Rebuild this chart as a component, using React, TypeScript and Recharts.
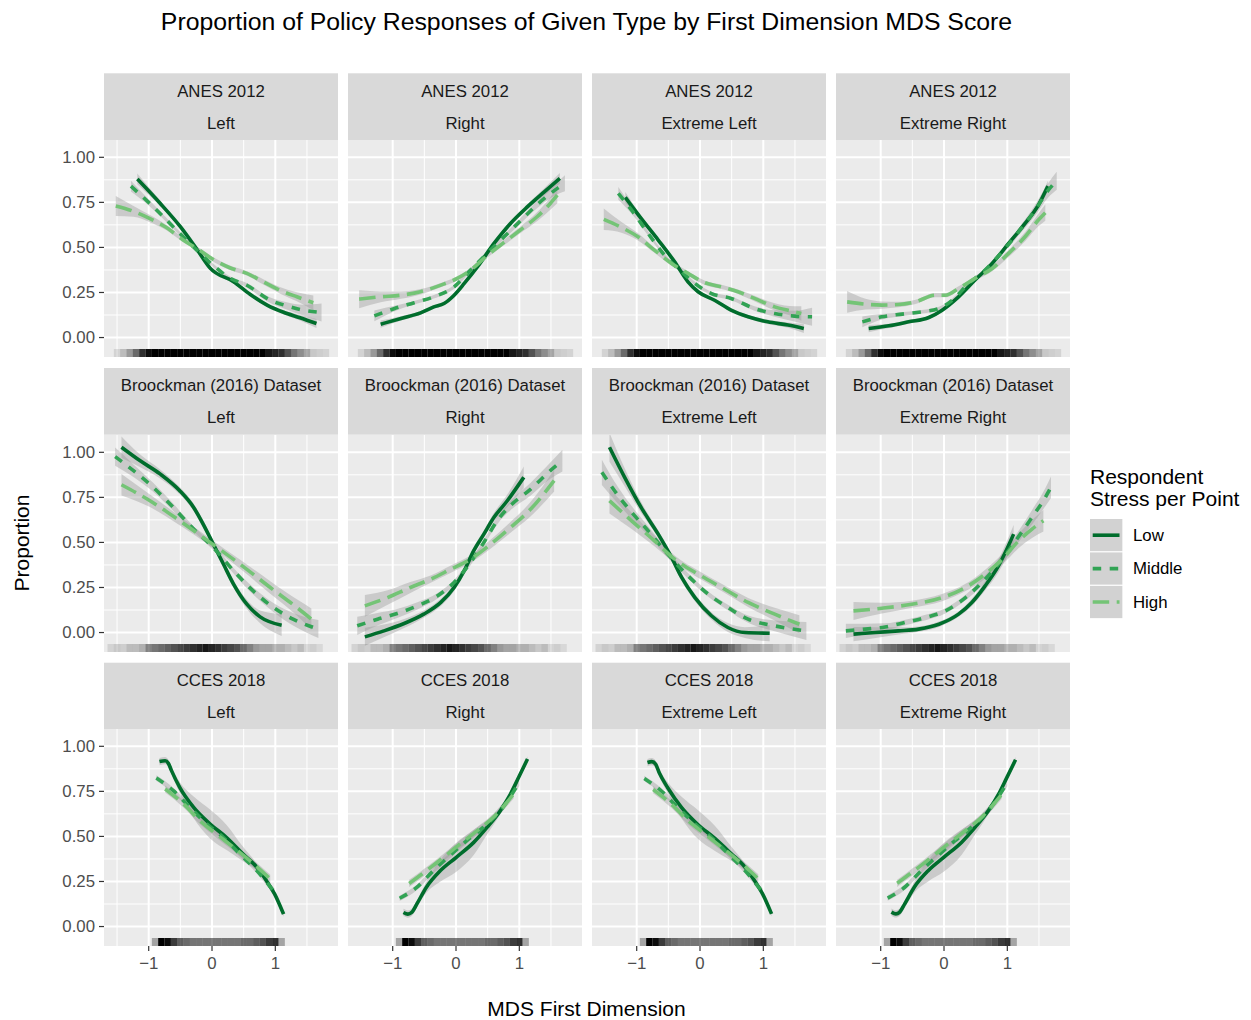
import { ComposedChart, Line, Area, Scatter, XAxis, YAxis, CartesianGrid } from 'recharts'

// [x, fitted proportion, ribbon half-width]
type Pt = [number, number, number]

const datasets = ['ANES 2012', 'Broockman (2016) Dataset', 'CCES 2018']
const responseTypes = ['Left', 'Right', 'Extreme Left', 'Extreme Right']
const stressLevels = ['Low', 'Middle', 'High']

// ANES 2012
const anesLeftLow: Pt[] = [[-1.18, 0.88, 0.03], [-0.82, 0.745, 0.015], [-0.5, 0.615, 0.01], [-0.24, 0.49, 0.01], [-0.03, 0.385, 0.01], [0.34, 0.31, 0.01], [0.6, 0.24, 0.01], [0.87, 0.18, 0.01], [1.13, 0.14, 0.012], [1.39, 0.11, 0.015], [1.65, 0.078, 0.025]]
const anesLeftMid: Pt[] = [[-1.28, 0.84, 0.03], [-0.93, 0.726, 0.015], [-0.56, 0.596, 0.01], [-0.24, 0.485, 0.01], [0.02, 0.4, 0.01], [0.28, 0.33, 0.01], [0.55, 0.29, 0.012], [0.92, 0.207, 0.015], [1.18, 0.176, 0.02], [1.44, 0.152, 0.03], [1.73, 0.139, 0.05]]
const anesLeftHigh: Pt[] = [[-1.52, 0.73, 0.055], [-1.24, 0.7, 0.03], [-0.98, 0.66, 0.02], [-0.72, 0.61, 0.015], [-0.45, 0.54, 0.012], [-0.24, 0.494, 0.012], [0.02, 0.433, 0.012], [0.28, 0.387, 0.012], [0.55, 0.356, 0.012], [0.81, 0.309, 0.015], [1.07, 0.263, 0.018], [1.34, 0.226, 0.025], [1.6, 0.193, 0.04]]

const anesRightLow: Pt[] = [[-1.19, 0.074, 0.02], [-0.87, 0.106, 0.012], [-0.56, 0.137, 0.01], [-0.35, 0.17, 0.01], [-0.19, 0.189, 0.01], [-0.03, 0.235, 0.01], [0.13, 0.3, 0.01], [0.34, 0.393, 0.01], [0.6, 0.522, 0.01], [0.86, 0.633, 0.012], [1.13, 0.726, 0.015], [1.39, 0.807, 0.02], [1.64, 0.883, 0.03]]
const anesRightMid: Pt[] = [[-1.29, 0.12, 0.03], [-0.97, 0.161, 0.015], [-0.66, 0.193, 0.01], [-0.35, 0.226, 0.01], [-0.03, 0.281, 0.01], [0.23, 0.374, 0.01], [0.49, 0.467, 0.01], [0.76, 0.559, 0.012], [1.02, 0.648, 0.015], [1.28, 0.737, 0.02], [1.55, 0.815, 0.03], [1.72, 0.856, 0.045]]
const anesRightHigh: Pt[] = [[-1.53, 0.213, 0.05], [-1.19, 0.226, 0.03], [-0.87, 0.235, 0.02], [-0.56, 0.254, 0.015], [-0.24, 0.291, 0.012], [0.02, 0.328, 0.012], [0.23, 0.374, 0.012], [0.49, 0.454, 0.012], [0.76, 0.528, 0.015], [1.02, 0.598, 0.018], [1.28, 0.67, 0.025], [1.49, 0.744, 0.035], [1.6, 0.79, 0.045]]

const anesExtLeftLow: Pt[] = [[-1.18, 0.778, 0.03], [-0.93, 0.661, 0.015], [-0.66, 0.541, 0.01], [-0.4, 0.42, 0.01], [-0.19, 0.309, 0.01], [-0.03, 0.254, 0.01], [0.23, 0.207, 0.01], [0.49, 0.152, 0.01], [0.76, 0.115, 0.01], [1.07, 0.087, 0.012], [1.39, 0.069, 0.015], [1.64, 0.05, 0.025]]
const anesExtLeftMid: Pt[] = [[-1.29, 0.8, 0.035], [-1.08, 0.707, 0.02], [-0.82, 0.578, 0.012], [-0.56, 0.457, 0.01], [-0.29, 0.365, 0.01], [-0.08, 0.3, 0.01], [0.18, 0.244, 0.01], [0.49, 0.217, 0.01], [0.86, 0.161, 0.012], [1.18, 0.133, 0.018], [1.49, 0.119, 0.03], [1.77, 0.115, 0.05]]
const anesExtLeftHigh: Pt[] = [[-1.52, 0.656, 0.06], [-1.24, 0.611, 0.03], [-0.98, 0.559, 0.02], [-0.72, 0.485, 0.015], [-0.45, 0.411, 0.012], [-0.19, 0.356, 0.012], [0.07, 0.305, 0.012], [0.34, 0.281, 0.012], [0.6, 0.254, 0.012], [0.86, 0.217, 0.015], [1.18, 0.17, 0.02], [1.49, 0.143, 0.03], [1.6, 0.133, 0.04]]

const anesExtRightLow: Pt[] = [[-1.19, 0.05, 0.02], [-0.87, 0.065, 0.012], [-0.56, 0.087, 0.01], [-0.24, 0.111, 0.01], [-0.03, 0.152, 0.01], [0.23, 0.226, 0.01], [0.49, 0.319, 0.01], [0.76, 0.411, 0.01], [1.02, 0.522, 0.012], [1.28, 0.633, 0.015], [1.49, 0.735, 0.02], [1.64, 0.84, 0.03]]
const anesExtRightMid: Pt[] = [[-1.29, 0.087, 0.03], [-0.98, 0.115, 0.015], [-0.66, 0.13, 0.01], [-0.35, 0.143, 0.01], [-0.08, 0.161, 0.01], [0.13, 0.207, 0.01], [0.39, 0.3, 0.01], [0.65, 0.374, 0.012], [0.92, 0.476, 0.015], [1.18, 0.587, 0.02], [1.44, 0.707, 0.03], [1.65, 0.819, 0.04], [1.78, 0.87, 0.05]]
const anesExtRightHigh: Pt[] = [[-1.53, 0.198, 0.06], [-1.24, 0.185, 0.03], [-0.98, 0.18, 0.02], [-0.72, 0.183, 0.015], [-0.45, 0.198, 0.012], [-0.14, 0.235, 0.012], [0.02, 0.235, 0.012], [0.23, 0.272, 0.012], [0.49, 0.328, 0.012], [0.76, 0.383, 0.015], [1.02, 0.467, 0.02], [1.28, 0.559, 0.025], [1.49, 0.652, 0.035], [1.6, 0.693, 0.045]]

// Broockman (2016)
const brLeftLow: Pt[] = [[-1.43, 1.028, 0.06], [-1.14, 0.954, 0.035], [-0.82, 0.88, 0.025], [-0.51, 0.787, 0.02], [-0.29, 0.694, 0.02], [-0.14, 0.602, 0.02], [0.02, 0.491, 0.02], [0.18, 0.38, 0.02], [0.34, 0.269, 0.02], [0.55, 0.157, 0.025], [0.76, 0.087, 0.035], [1.1, 0.041, 0.06]]
const brLeftMid: Pt[] = [[-1.53, 0.976, 0.05], [-1.24, 0.898, 0.035], [-0.93, 0.806, 0.025], [-0.61, 0.694, 0.02], [-0.29, 0.574, 0.015], [0.02, 0.472, 0.015], [0.34, 0.343, 0.015], [0.65, 0.231, 0.02], [0.97, 0.139, 0.025], [1.28, 0.074, 0.035], [1.68, 0.019, 0.05]]
const brLeftHigh: Pt[] = [[-1.43, 0.82, 0.06], [-0.98, 0.731, 0.035], [-0.51, 0.62, 0.025], [-0.03, 0.5, 0.02], [0.44, 0.38, 0.025], [0.92, 0.25, 0.035], [1.34, 0.139, 0.045], [1.57, 0.074, 0.06]]

const brRightLow: Pt[] = [[-1.44, -0.024, 0.05], [-1.14, 0.009, 0.035], [-0.82, 0.05, 0.025], [-0.51, 0.102, 0.02], [-0.24, 0.167, 0.02], [-0.03, 0.25, 0.02], [0.13, 0.343, 0.02], [0.28, 0.454, 0.02], [0.44, 0.546, 0.02], [0.6, 0.639, 0.025], [0.81, 0.731, 0.035], [1.07, 0.861, 0.06]]
const brRightMid: Pt[] = [[-1.56, 0.037, 0.05], [-1.24, 0.074, 0.035], [-0.93, 0.106, 0.025], [-0.61, 0.148, 0.02], [-0.29, 0.204, 0.015], [-0.03, 0.278, 0.015], [0.23, 0.389, 0.015], [0.44, 0.5, 0.015], [0.65, 0.62, 0.02], [0.86, 0.704, 0.025], [1.18, 0.796, 0.035], [1.49, 0.898, 0.045], [1.68, 0.954, 0.06]]
const brRightHigh: Pt[] = [[-1.44, 0.148, 0.06], [-1.08, 0.194, 0.04], [-0.72, 0.25, 0.03], [-0.4, 0.296, 0.02], [-0.08, 0.352, 0.02], [0.23, 0.407, 0.02], [0.55, 0.491, 0.025], [0.86, 0.583, 0.03], [1.18, 0.685, 0.04], [1.55, 0.843, 0.06]]

const brExtLeftLow: Pt[] = [[-1.43, 1.028, 0.08], [-1.19, 0.861, 0.05], [-0.93, 0.694, 0.03], [-0.66, 0.546, 0.02], [-0.45, 0.417, 0.02], [-0.29, 0.306, 0.02], [-0.08, 0.194, 0.02], [0.18, 0.093, 0.02], [0.44, 0.028, 0.025], [0.71, 0.0, 0.03], [1.1, -0.004, 0.045]]
const brExtLeftMid: Pt[] = [[-1.55, 0.889, 0.07], [-1.35, 0.787, 0.05], [-1.08, 0.667, 0.035], [-0.82, 0.565, 0.025], [-0.51, 0.435, 0.02], [-0.19, 0.315, 0.015], [0.13, 0.213, 0.015], [0.44, 0.139, 0.015], [0.76, 0.074, 0.02], [1.18, 0.037, 0.03], [1.68, 0.009, 0.05]]
const brExtLeftHigh: Pt[] = [[-1.43, 0.731, 0.07], [-1.08, 0.62, 0.045], [-0.72, 0.509, 0.03], [-0.4, 0.407, 0.02], [-0.03, 0.324, 0.02], [0.34, 0.25, 0.02], [0.76, 0.167, 0.025], [1.18, 0.102, 0.035], [1.57, 0.046, 0.05]]

const brExtRightLow: Pt[] = [[-1.43, -0.009, 0.04], [-1.08, 0.0, 0.03], [-0.72, 0.009, 0.02], [-0.4, 0.019, 0.015], [-0.08, 0.046, 0.015], [0.23, 0.102, 0.015], [0.44, 0.167, 0.02], [0.65, 0.259, 0.025], [0.86, 0.37, 0.035], [1.1, 0.546, 0.05]]
const brExtRightMid: Pt[] = [[-1.55, 0.009, 0.04], [-1.24, 0.019, 0.03], [-0.93, 0.031, 0.02], [-0.61, 0.056, 0.015], [-0.29, 0.083, 0.015], [0.02, 0.12, 0.015], [0.34, 0.194, 0.015], [0.6, 0.278, 0.02], [0.86, 0.38, 0.025], [1.13, 0.509, 0.03], [1.39, 0.639, 0.04], [1.6, 0.75, 0.05], [1.69, 0.806, 0.06]]
const brExtRightHigh: Pt[] = [[-1.43, 0.12, 0.05], [-0.98, 0.135, 0.03], [-0.51, 0.157, 0.02], [-0.03, 0.194, 0.02], [0.34, 0.25, 0.02], [0.65, 0.324, 0.025], [0.92, 0.407, 0.03], [1.18, 0.509, 0.04], [1.39, 0.574, 0.05], [1.57, 0.62, 0.06]]

// CCES 2018
const ccesLeftLow: Pt[] = [[-0.83, 0.915, 0.02], [-0.74, 0.92, 0.02], [-0.69, 0.906, 0.02], [-0.64, 0.865, 0.02], [-0.51, 0.772, 0.03], [-0.29, 0.661, 0.06], [-0.03, 0.569, 0.08], [0.23, 0.494, 0.07], [0.49, 0.402, 0.04], [0.71, 0.328, 0.02], [0.86, 0.254, 0.015], [0.99, 0.18, 0.015], [1.13, 0.069, 0.015]]
const ccesLeftMid: Pt[] = [[-0.88, 0.824, 0.015], [-0.61, 0.754, 0.015], [-0.35, 0.661, 0.015], [-0.08, 0.569, 0.015], [0.18, 0.494, 0.015], [0.44, 0.402, 0.015], [0.71, 0.309, 0.015], [0.99, 0.189, 0.02]]
const ccesLeftHigh: Pt[] = [[-0.74, 0.763, 0.02], [-0.45, 0.68, 0.02], [-0.19, 0.587, 0.02], [0.07, 0.513, 0.02], [0.34, 0.439, 0.02], [0.6, 0.365, 0.02], [0.92, 0.263, 0.025]]

const ccesRightLow: Pt[] = [[-0.83, 0.078, 0.02], [-0.76, 0.069, 0.02], [-0.7, 0.078, 0.02], [-0.62, 0.124, 0.02], [-0.47, 0.217, 0.03], [-0.25, 0.309, 0.06], [0.0, 0.383, 0.08], [0.28, 0.467, 0.07], [0.49, 0.55, 0.04], [0.7, 0.643, 0.02], [0.86, 0.735, 0.015], [0.99, 0.828, 0.015], [1.13, 0.93, 0.015]]
const ccesRightMid: Pt[] = [[-0.89, 0.157, 0.015], [-0.62, 0.217, 0.015], [-0.36, 0.309, 0.015], [-0.1, 0.393, 0.015], [0.17, 0.476, 0.015], [0.43, 0.55, 0.015], [0.7, 0.643, 0.015], [1.0, 0.8, 0.02]]
const ccesRightHigh: Pt[] = [[-0.74, 0.239, 0.02], [-0.47, 0.309, 0.02], [-0.2, 0.383, 0.02], [0.06, 0.457, 0.02], [0.33, 0.531, 0.02], [0.59, 0.606, 0.02], [0.91, 0.735, 0.025]]

const ccesExtLeftLow: Pt[] = [[-0.83, 0.91, 0.02], [-0.76, 0.915, 0.02], [-0.7, 0.9, 0.02], [-0.64, 0.85, 0.02], [-0.51, 0.77, 0.03], [-0.29, 0.66, 0.06], [-0.03, 0.565, 0.08], [0.23, 0.49, 0.07], [0.49, 0.405, 0.04], [0.71, 0.33, 0.02], [0.86, 0.255, 0.015], [0.99, 0.18, 0.015], [1.13, 0.07, 0.015]]
const ccesExtLeftMid: Pt[] = [[-0.88, 0.822, 0.015], [-0.61, 0.752, 0.015], [-0.35, 0.66, 0.015], [-0.08, 0.57, 0.015], [0.18, 0.495, 0.015], [0.44, 0.405, 0.015], [0.71, 0.31, 0.015], [0.99, 0.19, 0.02]]
const ccesExtLeftHigh: Pt[] = [[-0.74, 0.76, 0.02], [-0.45, 0.678, 0.02], [-0.19, 0.588, 0.02], [0.07, 0.515, 0.02], [0.34, 0.44, 0.02], [0.6, 0.367, 0.02], [0.92, 0.265, 0.025]]

const ccesExtRightLow: Pt[] = [[-0.83, 0.08, 0.02], [-0.76, 0.07, 0.02], [-0.7, 0.08, 0.02], [-0.62, 0.126, 0.02], [-0.47, 0.218, 0.03], [-0.25, 0.31, 0.06], [0.0, 0.385, 0.08], [0.28, 0.468, 0.07], [0.49, 0.55, 0.04], [0.7, 0.642, 0.02], [0.86, 0.733, 0.015], [0.99, 0.825, 0.015], [1.13, 0.925, 0.015]]
const ccesExtRightMid: Pt[] = [[-0.89, 0.158, 0.015], [-0.62, 0.218, 0.015], [-0.36, 0.31, 0.015], [-0.1, 0.393, 0.015], [0.17, 0.475, 0.015], [0.43, 0.55, 0.015], [0.7, 0.642, 0.015], [1.0, 0.798, 0.02]]
const ccesExtRightHigh: Pt[] = [[-0.74, 0.24, 0.02], [-0.47, 0.31, 0.02], [-0.2, 0.384, 0.02], [0.06, 0.457, 0.02], [0.33, 0.53, 0.02], [0.59, 0.605, 0.02], [0.91, 0.733, 0.025]]

// rug density of respondents' first-dimension scores, [x, shade]
const anesRug: [number, number][] = [[-1.5, 0.1], [-1.4, 0.2], [-1.3, 0.35], [-1.2, 0.55], [-1.1, 0.8], [-1.0, 0.95], [-0.9, 1], [-0.8, 1], [-0.7, 1], [-0.6, 1], [-0.5, 1], [-0.4, 1], [-0.3, 1], [-0.2, 1], [-0.1, 1], [0.0, 1], [0.1, 1], [0.2, 1], [0.3, 1], [0.4, 1], [0.5, 1], [0.6, 1], [0.7, 1], [0.8, 1], [0.9, 0.9], [1.0, 0.85], [1.1, 0.8], [1.2, 0.65], [1.3, 0.5], [1.4, 0.4], [1.5, 0.3], [1.6, 0.15], [1.7, 0.12], [1.8, 0.1]]
const broockmanRug: [number, number][] = [[-1.6, 0.1], [-1.5, 0.15], [-1.4, 0.12], [-1.3, 0.2], [-1.2, 0.2], [-1.1, 0.25], [-1.0, 0.45], [-0.9, 0.5], [-0.8, 0.55], [-0.7, 0.6], [-0.6, 0.65], [-0.5, 0.7], [-0.4, 0.75], [-0.3, 0.8], [-0.2, 0.85], [-0.1, 0.9], [0.0, 0.85], [0.1, 0.8], [0.2, 0.75], [0.3, 0.7], [0.4, 0.65], [0.5, 0.55], [0.6, 0.45], [0.7, 0.35], [0.8, 0.3], [0.9, 0.3], [1.0, 0.25], [1.1, 0.25], [1.2, 0.2], [1.3, 0.15], [1.4, 0.2], [1.5, 0.1], [1.6, 0.12], [1.7, 0.08]]
const ccesRug: [number, number][] = [[-0.9, 0.3], [-0.8, 1], [-0.7, 0.95], [-0.6, 0.75], [-0.5, 0.6], [-0.4, 0.55], [-0.3, 0.5], [-0.2, 0.5], [-0.1, 0.5], [0.0, 0.5], [0.1, 0.5], [0.2, 0.5], [0.3, 0.5], [0.4, 0.5], [0.5, 0.55], [0.6, 0.55], [0.7, 0.6], [0.8, 0.65], [0.9, 0.75], [1.0, 0.8], [1.1, 0.3]]

const panelSeries: Pt[][][][] = [
  [[anesLeftLow, anesLeftMid, anesLeftHigh], [anesRightLow, anesRightMid, anesRightHigh], [anesExtLeftLow, anesExtLeftMid, anesExtLeftHigh], [anesExtRightLow, anesExtRightMid, anesExtRightHigh]],
  [[brLeftLow, brLeftMid, brLeftHigh], [brRightLow, brRightMid, brRightHigh], [brExtLeftLow, brExtLeftMid, brExtLeftHigh], [brExtRightLow, brExtRightMid, brExtRightHigh]],
  [[ccesLeftLow, ccesLeftMid, ccesLeftHigh], [ccesRightLow, ccesRightMid, ccesRightHigh], [ccesExtLeftLow, ccesExtLeftMid, ccesExtLeftHigh], [ccesExtRightLow, ccesExtRightMid, ccesExtRightHigh]],
]
const rugs = [anesRug, broockmanRug, ccesRug]

const X_TICKS = [-1, 0, 1]
const X_MINOR = [-1.5, -0.5, 0.5, 1.5]
const Y_TICKS = [0, 0.25, 0.5, 0.75, 1]
const Y_MINOR = [0.125, 0.375, 0.625, 0.875]
const X_MIN = -1.706
const X_MAX = 1.99
const Y_MIN = -0.108
const Y_MAX = 1.096

const KEYS = ['low', 'mid', 'high']
const COLORS = ['#006D2C', '#31A354', '#74C476']
const DASHES = [undefined, '8.5 8.5', '16.5 7.5']
const LINE_W = 3.6

const FONT = '"Liberation Sans", Arial, Helvetica, sans-serif'
const PANEL_W = 234
const PANEL_H = 217
const STRIP_H = 66.7
const COL_LEFT = [104, 348, 592, 836]
const ROW_TOP = [140, 434.7, 729.4]
const AXIS_W = 50
const AXIS_H = 30

function buildRows(series: Pt[][]) {
  const rows: Record<string, unknown>[] = []
  series.forEach((pts, i) => {
    const k = KEYS[i]
    pts.forEach(([x, y, se]) => rows.push({ x, [k]: y, [k + 'Band']: [y - se, y + se] }))
  })
  return rows.sort((a, b) => (a.x as number) - (b.x as number))
}

const RugTick = (props: any) => {
  const { cx, cy, payload } = props
  if (cx == null || cy == null) return null
  return <rect x={cx - 3.2} y={cy - 8} width={6.4} height={8} fill="#000000" fillOpacity={payload.shade} />
}

const fmtX = (v: number) => (v < 0 ? '\u2212' + Math.abs(v) : String(v))
const fmtY = (v: number) => v.toFixed(2)

function Panel({ r, c }: { r: number; c: number }) {
  const rows = buildRows(panelSeries[r][c])
  const rug = rugs[r].map(([x, shade]) => ({ x, rug: Y_MIN, shade }))
  const isLeft = c === 0
  const isBottom = r === 2
  return (
    <div style={{ position: 'absolute', left: COL_LEFT[c] - (isLeft ? AXIS_W : 0), top: ROW_TOP[r] }}>
      <ComposedChart
        width={PANEL_W + (isLeft ? AXIS_W : 0)}
        height={PANEL_H + (isBottom ? AXIS_H : 0)}
        data={rows}
        margin={{ top: 0, right: 0, bottom: 0, left: 0 }}
      >
        <CartesianGrid fill="#EBEBEB" stroke="#FFFFFF" strokeWidth={1} horizontalValues={Y_MINOR} verticalValues={X_MINOR} />
        <CartesianGrid stroke="#FFFFFF" strokeWidth={2} horizontalValues={Y_TICKS} verticalValues={X_TICKS} />
        <XAxis
          type="number"
          dataKey="x"
          domain={[X_MIN, X_MAX]}
          allowDataOverflow
          ticks={X_TICKS}
          tickFormatter={fmtX}
          hide={!isBottom}
          height={AXIS_H}
          axisLine={false}
          tickSize={5}
          tickMargin={6}
          tickLine={{ stroke: '#333333', strokeWidth: 1.2 }}
          tick={{ fill: '#4D4D4D', fontSize: 16.8, fontFamily: FONT }}
        />
        <YAxis
          type="number"
          domain={[Y_MIN, Y_MAX]}
          allowDataOverflow
          ticks={Y_TICKS}
          tickFormatter={fmtY}
          hide={!isLeft}
          width={AXIS_W}
          axisLine={false}
          tickSize={5}
          tickMargin={4}
          tickLine={{ stroke: '#333333', strokeWidth: 1.2 }}
          tick={{ fill: '#4D4D4D', fontSize: 16.8, fontFamily: FONT }}
        />
        <Scatter data={rug} dataKey="rug" shape={RugTick} isAnimationActive={false} />
        {KEYS.flatMap((k, i) => [
          <Area
            key={k + 'band'}
            type="monotone"
            dataKey={k + 'Band'}
            fill="#999999"
            fillOpacity={0.4}
            stroke="none"
            connectNulls
            activeDot={false}
            isAnimationActive={false}
          />,
          <Line
            key={k}
            type="monotone"
            dataKey={k}
            stroke={COLORS[i]}
            strokeWidth={LINE_W}
            strokeDasharray={DASHES[i]}
            dot={false}
            activeDot={false}
            connectNulls
            isAnimationActive={false}
          />,
        ])}
      </ComposedChart>
    </div>
  )
}

function Frame() {
  return (
    <svg width={1251} height={1020} style={{ position: 'absolute', left: 0, top: 0 }} fontFamily={FONT}>
      <text x={586.5} y={21} textAnchor="middle" dominantBaseline="central" fontSize={24.8} fill="#000000">
        Proportion of Policy Responses of Given Type by First Dimension MDS Score
      </text>
      {ROW_TOP.map((top, r) =>
        COL_LEFT.map((left, c) => (
          <g key={`${r}-${c}`}>
            <rect x={left} y={top - STRIP_H} width={PANEL_W} height={STRIP_H} fill="#D9D9D9" />
            <text x={left + PANEL_W / 2} y={top - STRIP_H + 17.8} textAnchor="middle" dominantBaseline="central" fontSize={16.8} fill="#1A1A1A">
              {datasets[r]}
            </text>
            <text x={left + PANEL_W / 2} y={top - STRIP_H + 49.8} textAnchor="middle" dominantBaseline="central" fontSize={16.8} fill="#1A1A1A">
              {responseTypes[c]}
            </text>
          </g>
        ))
      )}
      <text x={586.5} y={1008} textAnchor="middle" dominantBaseline="central" fontSize={21} fill="#000000">
        MDS First Dimension
      </text>
      <text transform="translate(21,543) rotate(-90)" textAnchor="middle" dominantBaseline="central" fontSize={21} fill="#000000">
        Proportion
      </text>
      <text x={1090} y={476.3} dominantBaseline="central" fontSize={21} fill="#000000">Respondent</text>
      <text x={1090} y={498.5} dominantBaseline="central" fontSize={21} fill="#000000">Stress per Point</text>
      {stressLevels.map((lvl, i) => {
        const top = 518.5 + i * 33.4
        const cy = top + 16.7
        return (
          <g key={lvl}>
            <rect x={1089.5} y={top} width={33.4} height={33.4} fill="#D2D2D2" stroke="#FFFFFF" strokeWidth={1} />
            <line x1={1092.7} x2={1119.5} y1={cy} y2={cy} stroke={COLORS[i]} strokeWidth={LINE_W} strokeDasharray={DASHES[i]} />
            <text x={1133} y={cy} dominantBaseline="central" fontSize={16.8} fill="#000000">{lvl}</text>
          </g>
        )
      })}
    </svg>
  )
}

export default function App() {
  return (
    <div style={{ position: 'absolute', left: 0, top: 0, width: 1251, height: 1020, background: '#FFFFFF', fontFamily: FONT }}>
      <Frame />
      {ROW_TOP.map((_, r) => COL_LEFT.map((__, c) => <Panel key={`${r}-${c}`} r={r} c={c} />))}
    </div>
  )
}
